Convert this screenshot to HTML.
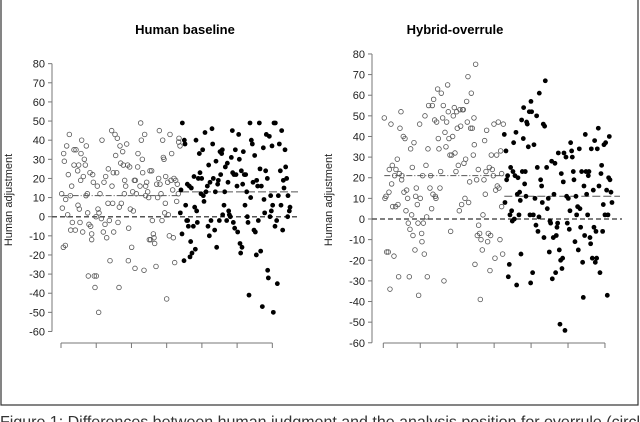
<!DOCTYPE html>
<html><head><meta charset="utf-8"><style>
body{margin:0;background:#fff;}
svg{display:block;font-family:"Liberation Sans",sans-serif;}
</style></head><body>
<svg id="fig" width="640" height="422" viewBox="0 0 640 422">
<rect x="1" y="-2" width="637" height="407" fill="none" stroke="#333" stroke-width="1.2"/>
<text x="185" y="34" text-anchor="middle" font-size="13" font-weight="bold">Human baseline</text>
<text x="455" y="34" text-anchor="middle" font-size="13" font-weight="bold">Hybrid-overrule</text>
<text x="0" y="427" font-size="16" fill="#333">Figure 1: Differences between human judgment and the analysis position for overrule (circles)</text>
</svg>
<script>
// ---- data: left chart (Human baseline) ----
const leftOpenX=[2,4,7,13,8,10,17,14,22,20,25,28,32,29,34,39,45,39,43,50,53,51,55,57,62,60,59,65,67,70,73,76,75,79,80,82,84,87,89,92,92,95,97,100,102,105,106,109,111,113,114,117,121,123,127,129,132,134,137,141,142,145,147,152,153,155,157,158,162,164,167,169,171,174,175,177,179,181,185,187,190,191,194,197,200,203,202,206,208,212,215,217,220,222,223,226,230,231,237,239,241,244,245,249,251,254,254,257,260,263,265,267,269,272,274,277,279,281,285,287,290,293,295,297,300,303,305,307,309,311,313,314,317,320,322,325,327,330,332,335,337,339,341,344,347,349,352,354,357,353];
const leftOpenY=[12,4.5,-16,-15,33,29,37,9,22,1,43,11,16,-7,-3,35,35,27,-7,24,27,6,4,-3,40,33,19,-8,21,30,27,37,11,12,2,-31,-4,23,-5,-9,-12,22,18,-31,-37,0,-31,16,4,-50,2,12,-1,40,-8,18,-4,21,-11,7,25,-2,-23,45,16,7,23,-8,43,32,23,41,-3,-37,5,37,28,7,34,27,12,19,16,38,27,-6,-23,26,4,-16,13,3,19,-27,19,12,26,33,16,49,40,30,23,-28,43,16,11,18,13,10,-12,24,-12,24,-2,-9,-11,-14,-26,17,10,20,45,17,12,-2,40,31,30,2,7,21,-43,18,1,-10,43,19,33,14,-11,20,-24,19,8,17,12,41,37,39];
const leftFillX=[360,358,364,363,369,370,372,374,377,379,380,382,385,387,389,391,393,397,399,401,403,405,407,409,412,415,417,420,422,425,427,429,432,435,439,441,443,445,447,450,453,455,457,461,463,465,467,470,472,475,477,479,482,484,485,489,491,493,497,499,501,503,505,508,511,514,515,517,519,521,523,525,528,530,533,535,537,539,541,543,545,547,550,552,554,557,559,561,564,567,569,571,574,576,579,581,583,586,587,590,592,595,597,599,601,604,607,609,611,614,616,619,620,622,625,627,629,631,633,635,637,639,642,643,647,649,652,655,658,660,662,665,667,669,672,674,677,680,681,685,687];
const leftFillY=[14,2,49,-9,-23,40,38,6,-2,17,-2,-5,16,-21,-13,15,-19,-5,21,5,-17,40,3,-3,20,33,23,12,20,35,11,8,44,13,16,-5,27,-10,18,-2,46,38,20,-7,13,29,-16,17,19,-2,34,22,33,35,1,6,13,26,-2,28,18,3,1,0,31,45,23,-3,22,-6,35,22,16,-8,43,30,-14,-19,24,-16,17,34,22,6,22,13,0,-3,-41,49,10,40,38,18,-7,32,-8,-20,19,16,-2,49,25,-18,16,-47,36,9,2,24,43,20,-28,-32,42,0,11,3,37,6,-50,49,-5,49,-2,-35,11,38,24,6,45,-7,19,15,35,26,20,0,11,3,5];
const leftMeans=[11,13];
// ---- data: right chart (Hybrid-overrule) ----
const rightOpenX=[3,5,8,10,15,17,18,20,23,25,27,28,32,34,37,38,42,44,46,48,50,53,55,56,60,62,65,68,70,73,75,78,80,82,85,87,89,92,95,97,99,102,104,106,109,111,115,116,118,120,123,125,128,130,132,134,136,140,142,145,147,149,151,154,156,158,160,163,165,167,170,172,174,178,180,182,185,188,190,193,195,197,200,202,205,208,210,213,215,218,220,222,225,228,230,232,235,238,240,242,245,247,250,252,254,256,259,262,264,267,270,272,273,275,277,280,282,285,286,289,291,293,297,299,302,304,306,308,310,313,315,318,320,322,324,327,330,332,335,337,340,342,345,347,350,352,355,358,360,355];
const rightOpenY=[49,10,11,-16,-16,13,24,-34,46,17,26,6,-18,21,6,24,29,7,-28,22,44,52,19,21,40,13,39,4,14,10,-2,-28,-5,34,2,25,-8,37,-15,11,15,7,-2,-37,46,10,-7,-11,21,-2,-17,50,26,1,-28,34,55,15,21,5,55,12,58,48,11,10,47,63,39,34,15,23,61,49,55,-30,42,35,47,65,52,39,31,-6,31,40,50,54,32,23,52,44,26,4,53,45,7,53,53,27,10,29,57,47,69,8,18,44,61,44,31,49,36,-22,75,19,-8,24,-3,-7,-39,-10,-15,2,19,38,12,23,43,-11,-7,25,-25,-8,31,24,21,46,-19,14,31,16,47,15,-10,33,6,-17,46,22];
const rightFillX=[363,365,368,370,373,375,378,380,382,385,387,389,391,393,395,398,400,402,404,407,409,411,413,415,417,420,421,424,426,428,430,432,435,438,440,442,443,445,448,450,452,455,458,460,462,464,467,468,472,475,477,480,482,484,486,490,492,495,498,500,502,505,507,510,512,515,517,519,521,523,525,528,530,532,534,536,538,540,542,545,548,550,552,555,558,560,562,565,567,570,572,575,578,580,583,585,588,590,592,595,598,600,602,604,606,608,610,613,615,617,620,622,624,627,630,632,634,636,638,640,642,645,647,650,653,655,658,660,662,665,667,670,672,674,676,678,680,683,686];
const rightFillY=[41,8,33,19,21,-28,-22,2,25,4,-1,23,37,0,21,42,-32,12,20,2,13,9,-17,48,23,39,54,17,23,11,47,46,35,52,2,-31,57,52,-26,2,36,10,-3,50,25,-6,1,61,19,16,8,46,-9,45,67,25,5,10,-16,-1,-2,28,-29,-9,12,27,-26,-8,-4,-2,32,-15,-51,-20,22,-24,-19,18,32,-54,30,11,-2,10,-5,4,37,33,30,23,19,-11,11,2,6,-15,34,5,-4,23,-21,-38,16,-8,41,23,12,2,21,23,-9,-12,34,-19,14,-4,38,-21,-6,-19,34,44,16,-26,22,26,-6,7,36,2,37,14,-37,2,20,40,19,13,8];
const rightMeans=[21,11];
const yTicks=[80,70,60,50,40,30,20,10,0,-10,-20,-30,-40,-50,-60];

const NS="http://www.w3.org/2000/svg";
const svg=document.getElementById('fig');
function mk(tag,attrs,parent){const e=document.createElementNS(NS,tag);for(const k in attrs)e.setAttribute(k,attrs[k]);(parent||svg).appendChild(e);return e;}

function drawChart(cfg){
  const g=mk('g',{});
  
  
  const xs=v=>cfg.x0+v*cfg.kx;
  const ys=v=>cfg.yZero-v*cfg.ky;
  const ax=mk('line',{x1:cfg.axisX,x2:cfg.axisX,y1:ys(80),y2:ys(-60),stroke:'#777','stroke-width':1},g);
  
  
  yTicks.forEach(t=>{
    const tk=mk('line',{x1:cfg.axisX-4,x2:cfg.axisX,y1:ys(t),y2:ys(t),stroke:'#777','stroke-width':1},g);
    
    
    const tl=mk('text',{x:cfg.axisX-7,y:ys(t)+4,'text-anchor':'end','font-size':11,fill:'#222'},g);
    tl.textContent=t;
    
    
  });
  const yt=mk('text',{x:0,y:0,'font-size':11,'text-anchor':'middle',fill:'#222',transform:'translate('+cfg.titleX+',200) rotate(-90)'},g);
  yt.textContent='Human adjustment';
  
  
  const xa=mk('line',{x1:xs(0),x2:xs(cfg.xMax),y1:343,y2:343,stroke:'#777','stroke-width':1},g);
  
  
  for(let i=0;i<=6;i++){
    const xt=mk('line',{x1:xs(i*cfg.xMax/6),x2:xs(i*cfg.xMax/6),y1:343,y2:348,stroke:'#777','stroke-width':1},g);
    
    
  }
  const z=mk('line',{x1:cfg.axisX,x2:cfg.zeroEnd,y1:ys(0),y2:ys(0),stroke:'#555','stroke-width':1.5,'stroke-dasharray':'5,3'},g);
  
  
  const m1=mk('line',{x1:xs(cfg.openX[0]),x2:xs(cfg.openEnd),y1:ys(cfg.means[0]),y2:ys(cfg.means[0]),stroke:'#555','stroke-width':1,'stroke-dasharray':'6,2,1,2'},g);
  
  
  const m2=mk('line',{x1:xs(cfg.fillX[0]),x2:cfg.zeroEnd-2,y1:ys(cfg.means[1]),y2:ys(cfg.means[1]),stroke:'#555','stroke-width':1,'stroke-dasharray':'8,3'},g);
  
  
  cfg.openX.forEach((x,i)=>{
    const c=mk('circle',{cx:xs(x),cy:ys(cfg.openY[i]),r:2.3,fill:'none',stroke:'#555','stroke-width':0.8},g);
    
    
  });
  cfg.fillX.forEach((x,i)=>{
    const c=mk('circle',{cx:xs(x),cy:ys(cfg.fillY[i]),r:2.4,fill:'#000'},g);
    
    
  });
}
drawChart({name:'left-chart',x0:61,kx:1/3,xMax:634,yZero:216.7,ky:1.913,axisX:52,titleX:12,zeroEnd:300,openEnd:357,
  openX:leftOpenX,openY:leftOpenY,fillX:leftFillX,fillY:leftFillY,means:leftMeans});
drawChart({name:'right-chart',x0:383.3,kx:1/3,xMax:665,yZero:219,ky:2.063,axisX:372,titleX:332,zeroEnd:622,openEnd:360,
  openX:rightOpenX,openY:rightOpenY,fillX:rightFillX,fillY:rightFillY,means:rightMeans});
</script>
</body></html>
